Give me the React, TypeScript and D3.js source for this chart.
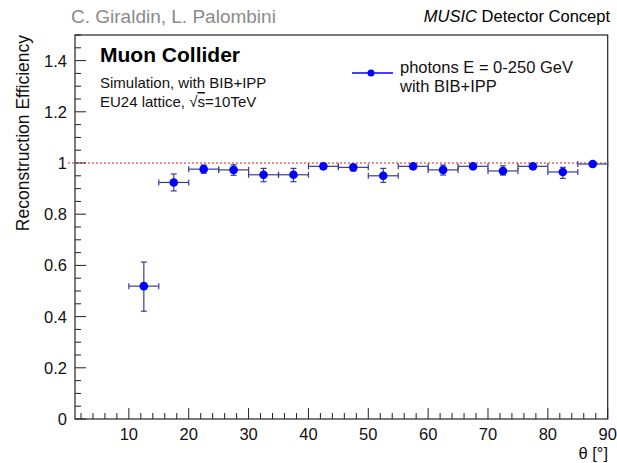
import React from "react";
import * as d3 from "d3";

const binCenters = [12.5, 17.5, 22.5, 27.5, 32.5, 37.5, 42.5, 47.5, 52.5, 57.5, 62.5, 67.5, 72.5, 77.5, 82.5, 87.5];
const efficiency = [0.519, 0.924, 0.976, 0.973, 0.954, 0.954, 0.987, 0.983, 0.950, 0.987, 0.973, 0.987, 0.969, 0.987, 0.965, 0.996];
const errHigh = [0.094, 0.033, 0.016, 0.020, 0.025, 0.025, 0.009, 0.011, 0.029, 0.009, 0.019, 0.009, 0.020, 0.009, 0.018, 0.004];
const errLow = [0.098, 0.033, 0.016, 0.021, 0.027, 0.027, 0.012, 0.014, 0.026, 0.012, 0.020, 0.012, 0.016, 0.012, 0.025, 0.010];
const binHalfWidth = 2.5;

const xMajorTicks = [10, 20, 30, 40, 50, 60, 70, 80, 90];
const yMajorTicks = [0, 0.2, 0.4, 0.6, 0.8, 1, 1.2, 1.4];
const yTickLabels = ["0", "0.2", "0.4", "0.6", "0.8", "1", "1.2", "1.4"];

const W = 617;
const H = 463;
const left = 75;
const right = 607.7;
const top = 35;
const bottom = 419;
const FONT = "'Liberation Sans', Arial, Helvetica, sans-serif";

export default function App() {
  const x = d3.scaleLinear().domain([1, 90]).range([left, right]);
  const y = d3.scaleLinear().domain([0, 1.5]).range([bottom, top]);

  const xMinor = d3.range(2, 90.01, 2).filter((v) => !xMajorTicks.includes(v));
  const yMinor = d3.range(0, 1.501, 0.05).filter((v) => !yMajorTicks.some((m) => Math.abs(m - v) < 1e-6));

  const errColor = "#3b3b99";
  const markerColor = "#0000ff";
  const cap = 3;

  return (
    <svg
      width={W}
      height={H}
      style={{ position: "absolute", left: 0, top: 0, background: "#fff", fontFamily: FONT }}
    >
      <rect x={0} y={0} width={W} height={H} fill="#fff" />
      {/* header texts */}
      <text x={71} y={23} fontSize={19} fill="#8a8a8a">C. Giraldin, L. Palombini</text>
      <text x={610} y={22} fontSize={16.5} fill="#000" textAnchor="end">
        <tspan fontStyle="italic">MUSIC</tspan> Detector Concept
      </text>

      {/* reference line at 1 */}
      <line x1={68} x2={right} y1={y(1)} y2={y(1)} stroke="#d62020" strokeWidth={1} strokeDasharray="2,2" />

      {/* frame */}
      <rect x={left} y={top} width={right - left} height={bottom - top} fill="none" stroke="#222" strokeWidth={1.2} />

      {/* x ticks */}
      {xMajorTicks.map((t) => (
        <line key={"xM" + t} x1={x(t)} x2={x(t)} y1={bottom} y2={bottom - 11} stroke="#222" strokeWidth={1} />
      ))}
      {xMinor.map((t) => (
        <line key={"xm" + t} x1={x(t)} x2={x(t)} y1={bottom} y2={bottom - 6} stroke="#222" strokeWidth={1} />
      ))}
      {xMajorTicks.map((t) => (
        <text key={"xl" + t} x={x(t)} y={440} fontSize={16.5} textAnchor="middle" fill="#111">
          {t}
        </text>
      ))}
      <text x={608} y={459} fontSize={16.5} textAnchor="end" fill="#111">θ [°]</text>

      {/* y ticks */}
      {yMajorTicks.map((t) => (
        <line key={"yM" + t} x1={left} x2={left + 11} y1={y(t)} y2={y(t)} stroke="#222" strokeWidth={1} />
      ))}
      {yMinor.map((t) => (
        <line key={"ym" + t} x1={left} x2={left + 6} y1={y(t)} y2={y(t)} stroke="#222" strokeWidth={1} />
      ))}
      {yMajorTicks.map((t, i) => (
        <text key={"yl" + t} x={67} y={y(t) + 6} fontSize={16.5} textAnchor="end" fill="#111">
          {yTickLabels[i]}
        </text>
      ))}
      <text
        transform={`translate(29, 35) rotate(-90)`}
        fontSize={17.5}
        textAnchor="end"
        fill="#111"
      >
        Reconstruction Efficiency
      </text>

      {/* labels inside */}
      <text x={100} y={62} fontSize={21} fontWeight="bold" fill="#000">Muon Collider</text>
      <text x={100} y={88} fontSize={15} fill="#111">Simulation, with BIB+IPP</text>
      <text x={100} y={107} fontSize={15} fill="#111">
        EU24 lattice, <tspan>√</tspan><tspan style={{ textDecoration: "overline" }}>s</tspan>=10TeV
      </text>

      {/* legend */}
      <line x1={352} x2={393} y1={73} y2={73} stroke={markerColor} strokeWidth={1.3} />
      <circle cx={371} cy={73} r={3.5} fill={markerColor} />
      <text x={400} y={73} fontSize={16.5} fill="#111">photons E = 0-250 GeV</text>
      <text x={400} y={92} fontSize={16.5} fill="#111">with BIB+IPP</text>

      {/* data */}
      {binCenters.map((c, i) => {
        const cx = x(c);
        const cy = y(efficiency[i]);
        const x0 = x(c - binHalfWidth);
        const x1 = x(c + binHalfWidth);
        const yHi = y(efficiency[i] + errHigh[i]);
        const yLo = y(efficiency[i] - errLow[i]);
        return (
          <g key={"p" + i} stroke={errColor} strokeWidth={1.2} fill="none">
            <line x1={x0} x2={x1} y1={cy} y2={cy} />
            <line x1={x0} x2={x0} y1={cy - cap} y2={cy + cap} />
            <line x1={x1} x2={x1} y1={cy - cap} y2={cy + cap} />
            <line x1={cx} x2={cx} y1={yHi} y2={yLo} />
            <line x1={cx - cap} x2={cx + cap} y1={yHi} y2={yHi} />
            <line x1={cx - cap} x2={cx + cap} y1={yLo} y2={yLo} />
            <circle cx={cx} cy={cy} r={4.3} fill={markerColor} stroke="none" />
          </g>
        );
      })}
    </svg>
  );
}
